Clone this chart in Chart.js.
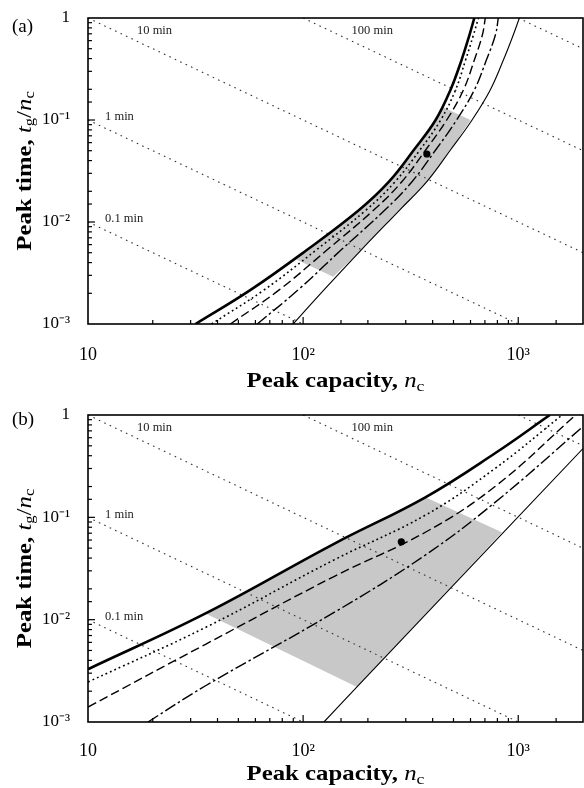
<!DOCTYPE html>
<html><head><meta charset="utf-8">
<script src="https://cdn.jsdelivr.net/npm/chart.js@4.4.0/dist/chart.umd.min.js"></script>
<style>
html,body{margin:0;padding:0;background:#fff;}
#wrap{position:relative;width:584px;height:788px;}
.panel{position:absolute;left:0;width:584px;height:394px;}
</style></head><body>
<div id="wrap">
<div class="panel" style="top:0"><canvas id="ca" width="584" height="394"></canvas></div>
<div class="panel" style="top:394px"><canvas id="cb" width="584" height="394"></canvas></div>
</div>
<script>
// ---------- tick labels ----------
const xTickVals = [10, 100, 1000];
const xTickLabels = ['10', '10²', '10³'];
const yTickVals = [0.001, 0.01, 0.1, 1];
const yTickLabels = ['10⁻³', '10⁻²', '10⁻¹', '1'];

// ---------- isochrons (t_g = const) ----------
const iso01X = [10, 100],   iso01Y = [0.01, 0.001];
const iso1X  = [10, 1000],  iso1Y  = [0.1, 0.001];
const iso10X = [10, 2000],  iso10Y = [1, 0.005];
const iso100X = [100, 2000], iso100Y = [1, 0.05];
const iso1000X = [1000, 2000], iso1000Y = [1, 0.5];
const isoLabelText = ['10 min', '100 min', '1 min', '0.1 min'];
const isoLabelX = [16.9, 168, 12.0, 12.0];
const isoLabelY = [0.75, 0.75, 0.107, 0.0108];

// ---------- panel (a) ----------
const aCurveY   = [0.001, 0.00216, 0.00531, 0.0131, 0.0247, 0.0508, 0.1, 0.197, 0.387, 0.681, 1];
const aThickX   = [31.6, 57, 104, 182, 250, 327, 413, 484, 545, 593, 625];
const aDottedX  = [37.5, 65.9, 115, 196, 267, 349, 436, 511, 569, 619, 653];
const aDashedX  = [45.9, 77.4, 129, 213, 287, 371, 465, 556, 625, 681, 703];
const aDashDotX = [61.2, 94.8, 150, 240, 320, 413, 517, 625, 711, 783, 808];
const aThinX    = [89.9, 125, 186, 281, 375, 484, 610, 741, 853, 948, 1012];
const aShadeX = [93, 104, 182, 250, 327, 413, 443, 600, 484, 375, 281, 186, 138];
const aShadeY = [0.0043, 0.00531, 0.0131, 0.0247, 0.0508, 0.1, 0.135, 0.1, 0.0508, 0.0247, 0.0131, 0.00531, 0.0029];
const aDotX = [376], aDotY = [0.0464];

// ---------- panel (b) ----------
const bThickX   = [10, 35.2, 140.6, 370, 780, 1403];
const bThickY   = [0.00328, 0.0115, 0.0557, 0.157, 0.423, 1];
const bDottedX  = [10, 35.2, 140.6, 370, 780, 1600];
const bDottedY  = [0.00246, 0.0084, 0.0388, 0.105, 0.3, 1];
const bDashedX  = [10, 35.2, 140.6, 370, 780, 1850];
const bDashedY  = [0.0014, 0.00575, 0.0267, 0.0715, 0.2, 1];
const bDashDotX = [19, 35.2, 140.6, 370, 780, 2000];
const bDashDotY = [0.001, 0.00226, 0.0119, 0.0428, 0.14, 0.77];
const bThinX    = [125, 178, 2000];
const bThinY    = [0.001, 0.0022, 0.47];
const bShadeX = [35.2, 140.6, 370, 840, 178];
const bShadeY = [0.0115, 0.0557, 0.157, 0.0715, 0.0022];
const bDotX = [286], bDotY = [0.0577];

// ---------- helpers ----------
function pts(xs, ys) { return xs.map((x, i) => ({x: x, y: ys[i]})); }
function curve(xs, ys, width, dash) {
  return {data: pts(xs, ys), showLine: true, pointRadius: 0, borderColor: '#000',
    borderWidth: width, borderDash: dash, fill: false, tension: 0.4, order: 1};
}
function iso(xs, ys) {
  return {data: pts(xs, ys), showLine: true, pointRadius: 0, borderColor: '#333',
    borderWidth: 1.1, borderDash: [1.6, 4.4], fill: false, tension: 0, order: 2};
}
function shade(xs, ys) {
  return {data: pts(xs, ys), showLine: true, pointRadius: 0, borderColor: 'rgba(0,0,0,0)',
    borderWidth: 0, backgroundColor: '#c8c8c8', fill: 'shape', tension: 0, order: 3};
}
function dot(xs, ys) {
  return {data: pts(xs, ys), showLine: false, pointRadius: 3.6, pointBackgroundColor: '#000',
    pointBorderColor: '#000', pointBorderWidth: 0, order: 0};
}
function isoSets() {
  return [iso(iso01X, iso01Y), iso(iso1X, iso1Y), iso(iso10X, iso10Y), iso(iso100X, iso100Y), iso(iso1000X, iso1000Y)];
}
function labelFor(v, vals, labels) {
  for (let i = 0; i < vals.length; i++) if (Math.abs(Math.log10(v) - Math.log10(vals[i])) < 1e-6) return labels[i];
  return '';
}
function isPow10(v) { const l = Math.log10(v); return Math.abs(l - Math.round(l)) < 1e-6; }

const SERIF = '"Liberation Serif", "Times New Roman", serif';

function drawParts(ctx, parts, sx) {
  let w = 0;
  parts.forEach(p => { ctx.font = p.f; p.w = ctx.measureText(p.t).width; w += p.w; });
  let x = -w * sx / 2;
  parts.forEach(p => {
    ctx.font = p.f;
    ctx.save(); ctx.translate(x, p.dy || 0); ctx.scale(sx, 1); ctx.fillText(p.t, 0, 0); ctx.restore();
    x += p.w * sx;
  });
}

const decor = {
  id: 'decor',
  afterDatasetsDraw(chart, args, o) {
    const ctx = chart.ctx, a = chart.chartArea, xs = chart.scales.x, ys = chart.scales.y;
    ctx.save();
    ctx.fillStyle = '#222'; ctx.font = '12.5px ' + SERIF; ctx.textAlign = 'left'; ctx.textBaseline = 'middle';
    isoLabelText.forEach((t, i) => ctx.fillText(t, xs.getPixelForValue(isoLabelX[i]), ys.getPixelForValue(isoLabelY[i])));
    ctx.strokeStyle = '#000'; ctx.lineWidth = 1.2;
    xs.ticks.forEach(t => {
      const px = xs.getPixelForValue(t.value);
      if (px <= a.left + 0.5 || px >= a.right - 0.5) return;
      const len = isPow10(t.value) ? 7 : 4;
      ctx.beginPath(); ctx.moveTo(px, a.bottom); ctx.lineTo(px, a.bottom - len); ctx.stroke();
    });
    ys.ticks.forEach(t => {
      const py = ys.getPixelForValue(t.value);
      if (py <= a.top + 0.5 || py >= a.bottom - 0.5) return;
      const len = isPow10(t.value) ? 7 : 4;
      ctx.beginPath(); ctx.moveTo(a.left, py); ctx.lineTo(a.left + len, py); ctx.stroke();
    });
    ctx.lineWidth = 1.6;
    ctx.strokeRect(a.left, a.top, a.right - a.left, a.bottom - a.top);
    ctx.restore();
  },
  afterDraw(chart, args, o) {
    const ctx = chart.ctx, a = chart.chartArea;
    ctx.save();
    ctx.fillStyle = '#000';
    ctx.font = '19px ' + SERIF; ctx.textAlign = 'left'; ctx.textBaseline = 'middle';
    ctx.fillText(o.label, 12, o.labelY);
    ctx.textAlign = 'left'; ctx.textBaseline = 'alphabetic';
    ctx.save(); ctx.translate((a.left + a.right) / 2, o.xTitleY);
    drawParts(ctx, [
      {t: 'Peak capacity, ', f: 'bold 21px ' + SERIF},
      {t: 'n', f: 'italic 21px ' + SERIF},
      {t: 'c', f: '15px ' + SERIF, dy: 4}
    ], 1.18);
    ctx.restore();
    ctx.save(); ctx.translate(31, (a.top + a.bottom) / 2); ctx.rotate(-Math.PI / 2);
    drawParts(ctx, [
      {t: 'Peak time, ', f: 'bold 21px ' + SERIF},
      {t: 't', f: 'italic 21px ' + SERIF},
      {t: 'g', f: '14px ' + SERIF, dy: 3},
      {t: '/', f: '21px ' + SERIF},
      {t: 'n', f: 'italic 21px ' + SERIF},
      {t: 'c', f: '14px ' + SERIF, dy: 3}
    ], 1.18);
    ctx.restore();
    ctx.restore();
  }
};

function makeChart(id, datasets, cfg) {
  return new Chart(document.getElementById(id), {
    type: 'scatter',
    data: {datasets: datasets},
    options: {
      responsive: false, animation: false, devicePixelRatio: 1,
      layout: {autoPadding: false, padding: {top: cfg.top, right: 1, left: 0, bottom: 0}},
      plugins: {legend: {display: false}, tooltip: {enabled: false},
        decor: {label: cfg.label, labelY: cfg.labelY, xTitleY: cfg.xTitleY}},
      scales: {
        x: {type: 'logarithmic', min: 10, max: 2000,
          grid: {display: false, drawTicks: true, tickLength: cfg.xpad}, border: {display: false},
          afterFit: s => { s.height = cfg.xh; s.paddingLeft = 0; s.paddingRight = 0; },
          ticks: {autoSkip: false, maxRotation: 0, minRotation: 0, padding: 0, color: '#000',
            font: {family: SERIF, size: 18},
            callback: v => labelFor(v, xTickVals, xTickLabels)}},
        y: {type: 'logarithmic', min: 0.001, max: 1,
          grid: {display: false, drawTicks: true, tickLength: 18}, border: {display: false},
          afterFit: s => { s.width = 88; s.paddingTop = 0; s.paddingBottom = 0; },
          ticks: {autoSkip: false, padding: 0, color: '#000',
            font: {family: SERIF, size: 17},
            callback: v => labelFor(v, yTickVals, yTickLabels)}}
      }
    },
    plugins: [decor]
  });
}

const aSets = [
  dot(aDotX, aDotY),
  curve(aThickX, aCurveY, 2.6, []),
  curve(aDottedX, aCurveY, 1.6, [1.8, 3]),
  curve(aDashedX, aCurveY, 1.4, [9, 4]),
  curve(aDashDotX, aCurveY, 1.4, [12, 3, 2.5, 3]),
  curve(aThinX, aCurveY, 1.1, []),
  ...isoSets(),
  shade(aShadeX, aShadeY)
];
const bSets = [
  dot(bDotX, bDotY),
  curve(bThickX, bThickY, 2.6, []),
  curve(bDottedX, bDottedY, 1.6, [1.8, 3]),
  curve(bDashedX, bDashedY, 1.4, [9, 4]),
  curve(bDashDotX, bDashDotY, 1.4, [12, 3, 2.5, 3]),
  curve(bThinX, bThinY, 1.1, []),
  ...isoSets(),
  shade(bShadeX, bShadeY)
];

makeChart('ca', aSets, {top: 18, xh: 70, xpad: 20, label: '(a)', labelY: 27, xTitleY: 387});
makeChart('cb', bSets, {top: 21, xh: 66, xpad: 18, label: '(b)', labelY: 26, xTitleY: 386});
</script>
</body></html>
